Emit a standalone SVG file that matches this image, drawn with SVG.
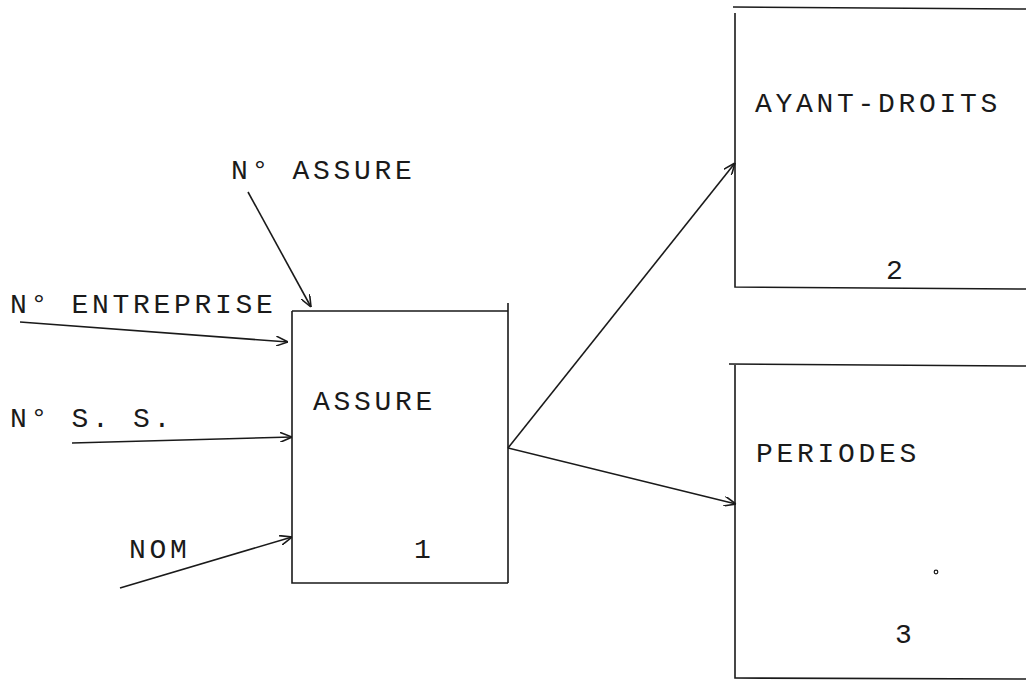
<svg xmlns="http://www.w3.org/2000/svg" width="1026" height="680" viewBox="0 0 1026 680">
<defs>
<style>
.box{fill:none;stroke:#1a1a1a;stroke-width:1.6}
.con{fill:none;stroke:#1a1a1a;stroke-width:1.6}
.t{font-family:"Liberation Mono","DejaVu Sans Mono",monospace;font-size:28px;letter-spacing:3.7px;fill:#1a1a1a}
</style>
<marker id="ah" viewBox="0 0 12 10" refX="12" refY="5" markerWidth="12" markerHeight="10" markerUnits="userSpaceOnUse" orient="auto">
<path d="M0,0 L12,5 L0,10" fill="none" stroke="#1a1a1a" stroke-width="1.6"/>
</marker>
</defs>
<rect width="1026" height="680" fill="#fff"/>
<g id="node-assure">
<path class="box" d="M292,311 L508,311 M292,311 L292,583 L508,583 M508,303 L508,583"/>
<text class="t" x="313" y="410">ASSURE</text>
<text class="t" x="414" y="558">1</text>
</g>
<g id="node-ayant-droits">
<path class="box" d="M733,7 L1026,9 M735,13 L735,287 L1026,289"/>
<text class="t" x="755" y="112">AYANT-DROITS</text>
<text class="t" x="886" y="279">2</text>
</g>
<g id="node-periodes">
<path class="box" d="M729,364 L1026,366 M735,364 L735,678 L1026,679"/>
<text class="t" x="756" y="462">PERIODES</text>
<text class="t" x="895" y="643">3</text>
<circle cx="936" cy="572" r="1.8" fill="none" stroke="#1a1a1a" stroke-width="1.2"/>
</g>
<g id="labels">
<text class="t" x="231" y="179">N° ASSURE</text>
<text class="t" x="10" y="313">N° ENTREPRISE</text>
<text class="t" x="10" y="427">N° S. S.</text>
<text class="t" x="129" y="558">NOM</text>
</g>
<g id="connectors">
<line class="con" x1="248" y1="192" x2="311" y2="307" marker-end="url(#ah)"/>
<line class="con" x1="20" y1="322" x2="288" y2="342" marker-end="url(#ah)"/>
<line class="con" x1="72" y1="443" x2="292" y2="437" marker-end="url(#ah)"/>
<line class="con" x1="120" y1="588" x2="292" y2="537" marker-end="url(#ah)"/>
<line class="con" x1="508" y1="448" x2="735" y2="163" marker-end="url(#ah)"/>
<line class="con" x1="508" y1="448" x2="736" y2="504" marker-end="url(#ah)"/>
</g>
</svg>
